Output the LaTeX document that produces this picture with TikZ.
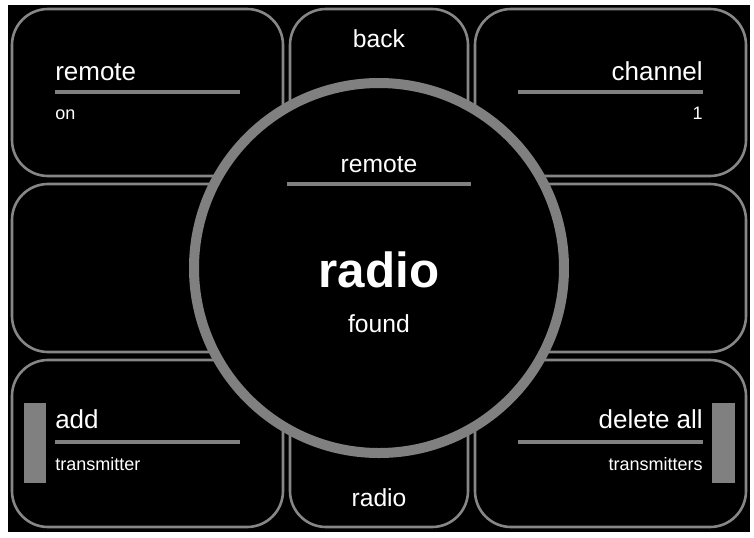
\documentclass[tikz,border=0pt]{standalone}
\usepackage{fontspec}
\setmainfont{Liberation Sans}
\begin{document}
\begin{tikzpicture}[x=0.75pt,y=-0.75pt,
  box/.style={draw=gray!95!white,line width=2.6pt*0.75,rounded corners=27pt},
  sep/.style={draw=gray,line width=3pt},
  big/.style={text=white,font=\fontsize{19.5}{22}\selectfont,inner sep=0pt},
  small/.style={text=white,font=\fontsize{13.5}{16}\selectfont,inner sep=0pt},
  bar/.style={fill=gray,draw=none}]
\useasboundingbox (0,0) rectangle (754,537);
\fill[white] (0,0) rectangle (754,537);
\fill[black] (8,5) rectangle (750,532);
\definecolor{gray}{RGB}{128,128,128}
% boxes
\draw[box] (12,9) rectangle (283,176);
\draw[box] (290,9) rectangle (468,176);
\draw[box] (475,9) rectangle (746,176);
\draw[box] (12,184) rectangle (283,352);
\draw[box] (475,184) rectangle (746,352);
\draw[box] (12,360) rectangle (283,527);
\draw[box] (290,360) rectangle (468,527);
\draw[box] (475,360) rectangle (746,527);
% top left
\node[big,anchor=base west] (tl) at (55,80) {remote};
\draw[sep] (55,92) -- (240,92);
\node[small,anchor=base west] (tl2) at (55,119) {on};
% top right
\node[big,anchor=base east] (tr) at (703,80) {channel};
\draw[sep] (518,92) -- (703,92);
\node[small,anchor=base east] (tr2) at (703,119) {1};
% bottom left
\fill[bar] (24,403) rectangle (46,483);
\node[big,anchor=base west] (bl) at (55,428) {add};
\draw[sep] (55,442) -- (240,442);
\node[small,anchor=base west] (bl2) at (55,470) {transmitter};
% bottom right
\fill[bar] (712,403) rectangle (735,483);
\node[big,anchor=base east] (br) at (703,428) {delete all};
\draw[sep] (518,442) -- (703,442);
\node[small,anchor=base east] (br2) at (703,470) {transmitters};
% top/bottom middle
\node[big,font=\fontsize{18.5}{20}\selectfont,anchor=base] (back) at (379,47) {back};
\node[big,font=\fontsize{18.5}{20}\selectfont,anchor=base] (rb) at (379,506) {radio};
% circle
\draw[draw=gray,fill=black,line width=7.5pt] (379,268) circle[radius=185];
\node[big,font=\fontsize{18.5}{20}\selectfont,anchor=base] (cr) at (379,172) {remote};
\draw[sep] (287,184) -- (471,184);
\node[text=white,font=\bfseries\fontsize{37}{40}\selectfont,anchor=base,inner sep=0pt] (radio) at (379,287) {radio};
\node[big,font=\fontsize{18.5}{20}\selectfont,anchor=base] (found) at (379,332) {found};
\end{tikzpicture}
\end{document}
